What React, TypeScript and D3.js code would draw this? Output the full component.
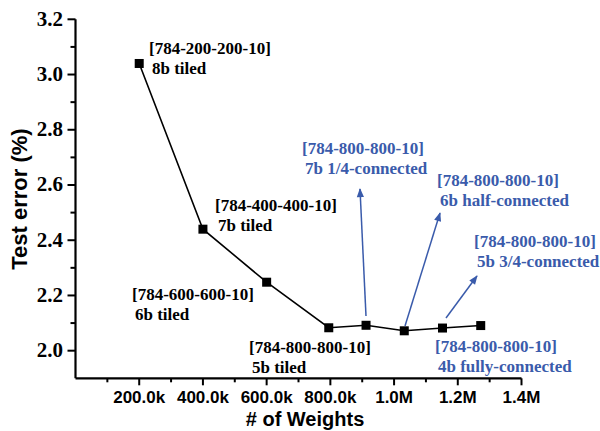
import React from "react";
import * as d3 from "d3";

const weights = [200000, 400000, 600000, 795000, 912000, 1032000, 1152000, 1272000];
const testError = [3.04, 2.44, 2.248, 2.083, 2.092, 2.072, 2.082, 2.091];
const xTicks = [200000, 400000, 600000, 800000, 1000000, 1200000, 1400000];
const xTickLabels = ["200.0k", "400.0k", "600.0k", "800.0k", "1.0M", "1.2M", "1.4M"];
const xMinor = [100000, 300000, 500000, 700000, 900000, 1100000, 1300000];
const yTicks = [2.0, 2.2, 2.4, 2.6, 2.8, 3.0, 3.2];
const yMinor = [2.1, 2.3, 2.5, 2.7, 2.9, 3.1];

const labelLine1 = [
  "[784-200-200-10]", "[784-400-400-10]", "[784-600-600-10]", "[784-800-800-10]",
  "[784-800-800-10]", "[784-800-800-10]", "[784-800-800-10]", "[784-800-800-10]",
];
const labelLine2 = [
  "8b tiled", "7b tiled", "6b tiled", "5b tiled",
  "7b 1/4-connected", "6b half-connected", "5b 3/4-connected", "4b fully-connected",
];

// layout (pixels) for each annotation: text anchor and optional arrow tip
const labelLayout = [
  { x: 149, y: 54, blue: false },
  { x: 215, y: 211, blue: false },
  { x: 132, y: 300, blue: false },
  { x: 249, y: 353, blue: false },
  { x: 302, y: 154, blue: true, tip: [360, 189], start: [366, 316] },
  { x: 437, y: 186, blue: true, tip: [440, 213], start: [405, 326] },
  { x: 474, y: 247, blue: true, tip: [477, 276], start: [446, 318] },
  { x: 435, y: 352, blue: true },
];

const BLUE = "#3a5bab";

export default function App() {
  const W = 600, H = 431;
  const x = d3.scaleLinear().domain([0, 1400000]).range([75.5, 521.5]);
  const y = d3.scaleLinear().domain([1.9, 3.2]).range([378.3, 19.3]);
  const line = d3.line<number>().x((_, i) => x(weights[i])).y((d) => y(d));
  const serif = "'Liberation Serif', 'Times New Roman', serif";
  const sans = "'Liberation Sans', Arial, sans-serif";
  return (
    <svg width={W} height={H} style={{ position: "absolute", left: 0, top: 0 }}>
      <defs>
        <marker id="ah" viewBox="0 0 10 10" refX="9" refY="5" markerWidth="10" markerHeight="9" orient="auto" markerUnits="userSpaceOnUse">
          <path d="M0,1 L10,5 L0,9 Z" fill={BLUE} />
        </marker>
      </defs>
      <rect width={W} height={H} fill="#fff" />
      <line x1={x(0)} x2={x(1400000)} y1={y(1.9)} y2={y(1.9)} stroke="#000" strokeWidth={2.2} />
      <line x1={x(0)} x2={x(0)} y1={y(1.9)} y2={y(3.2)} stroke="#000" strokeWidth={2.2} />
      {xTicks.map((t, i) => (
        <g key={"xt" + i}>
          <line x1={x(t)} x2={x(t)} y1={y(1.9)} y2={y(1.9) + 7} stroke="#000" strokeWidth={2} />
          <text x={x(t)} y={403} textAnchor="middle" fontFamily={sans} fontWeight="bold" fontSize={17}>{xTickLabels[i]}</text>
        </g>
      ))}
      {xMinor.map((t, i) => (
        <line key={"xm" + i} x1={x(t)} x2={x(t)} y1={y(1.9)} y2={y(1.9) + 4} stroke="#000" strokeWidth={2} />
      ))}
      {yTicks.map((t, i) => (
        <g key={"yt" + i}>
          <line x1={x(0) - 8} x2={x(0)} y1={y(t)} y2={y(t)} stroke="#000" strokeWidth={2} />
          <text x={63} y={y(t) + 6.5} textAnchor="end" fontFamily={serif} fontWeight="bold" fontSize={21}>{t.toFixed(1)}</text>
        </g>
      ))}
      {yMinor.map((t, i) => (
        <line key={"ym" + i} x1={x(0) - 5} x2={x(0)} y1={y(t)} y2={y(t)} stroke="#000" strokeWidth={2} />
      ))}
      <text x={305} y={426} textAnchor="middle" fontFamily={sans} fontWeight="bold" fontSize={20}># of Weights</text>
      <text transform="translate(27,199) rotate(-90)" textAnchor="middle" fontFamily={sans} fontWeight="bold" fontSize={22}>Test error (%)</text>
      <path d={line(testError) || ""} fill="none" stroke="#000" strokeWidth={1.6} />
      {testError.map((v, i) => (
        <rect key={"p" + i} x={x(weights[i]) - 4.5} y={y(v) - 4.5} width={9} height={9} fill="#000" />
      ))}
      {labelLayout.map((l, i) =>
        l.tip ? (
          <line key={"a" + i} x1={l.start![0]} y1={l.start![1]} x2={l.tip[0]} y2={l.tip[1]} stroke={BLUE} strokeWidth={1.5} markerEnd="url(#ah)" />
        ) : null
      )}
      {labelLayout.map((l, i) => (
        <g key={"l" + i} fontFamily={serif} fontWeight="bold" fontSize={17} fill={l.blue ? BLUE : "#000"}>
          <text x={l.x} y={l.y}>{labelLine1[i]}</text>
          <text x={l.x + 3} y={l.y + 19.5}>{labelLine2[i]}</text>
        </g>
      ))}
    </svg>
  );
}
